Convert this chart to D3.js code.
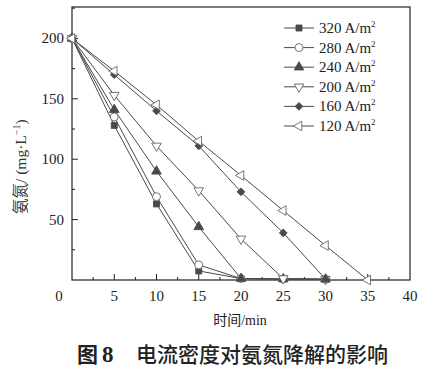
<!DOCTYPE html>
<html><head><meta charset="utf-8">
<script src="https://cdn.jsdelivr.net/npm/d3@7"></script>
<style>body{margin:0;background:#fff}svg{display:block}</style>
</head><body>
<svg id="c" width="448" height="371"></svg>
<script>
const times = [0, 5, 10, 15, 20, 25, 30, 35];
const seriesNames = ["320 A/m", "280 A/m", "240 A/m", "200 A/m", "160 A/m", "120 A/m"];
const s320 = [200, 128, 63, 7.5, 1.2, 0.8, 0.6];
const s280 = [200, 135, 69, 12.5, 1.2, 0.8, 0.6];
const s240 = [200, 141, 90, 44, 1.2, 0.8, 0.6];
const s200 = [200, 153, 111, 74, 34, 1.2, 0.6];
const s160 = [200, 170, 140, 111, 73, 39, 0.8];
const s120 = [200, 173, 145, 115, 86.5, 57.5, 28.5, 0];
const xTicks = [5, 10, 15, 20, 25, 30, 35, 40];
const yTicks = [50, 100, 150, 200];
const caption = "电流密度对氨氮降解的影响";

const allSeries = [s320, s280, s240, s200, s160, s120];
const shapes = [
  {t: d3.symbolSquare, s: 36, fill: true},
  {t: d3.symbolCircle, s: 50, fill: false},
  {t: d3.symbolTriangle, s: 40, fill: true},
  {t: d3.symbolTriangle, s: 40, fill: false, rot: 180},
  {t: d3.symbolSquare, s: 30, fill: true, rot: 45},
  {t: d3.symbolTriangle, s: 40, fill: false, rot: -90}
];
const col = "#4a4a4a";

const svg = d3.select("#c");
const L = 72, R = 410, T = 7, B = 280;
const x = d3.scaleLinear().domain([0, 40]).range([L, R]);
const y = d3.scaleLinear().domain([0, 226]).range([B, T]);
const serif = "'Liberation Serif','Times New Roman','Noto Sans CJK SC',serif";

// frame
svg.append("rect").attr("x", L).attr("y", T).attr("width", R - L).attr("height", B - T)
  .attr("fill", "none").attr("stroke", "#222").attr("stroke-width", 1.2);

// ticks (inward)
const gx = svg.append("g");
d3.range(2.5, 40, 2.5).forEach(v => {
  const major = v % 5 === 0;
  gx.append("line").attr("x1", x(v)).attr("x2", x(v)).attr("y1", B).attr("y2", B - (major ? 6 : 3))
    .attr("stroke", "#222").attr("stroke-width", 1);
});
const gy = svg.append("g");
d3.range(25, 226, 25).forEach(v => {
  const major = v % 50 === 0;
  gy.append("line").attr("y1", y(v)).attr("y2", y(v)).attr("x1", L).attr("x2", L + (major ? 6 : 3))
    .attr("stroke", "#222").attr("stroke-width", 1);
});

// tick labels
svg.append("g").selectAll("text").data(xTicks).join("text")
  .attr("x", d => x(d)).attr("y", 301).attr("text-anchor", "middle")
  .attr("font-family", serif).attr("font-size", 15).attr("fill", "#222").text(d => d);
svg.append("g").selectAll("text").data(yTicks).join("text")
  .attr("x", 64).attr("y", d => y(d) + 5).attr("text-anchor", "end")
  .attr("font-family", serif).attr("font-size", 15).attr("fill", "#222").text(d => d);
svg.append("text").attr("x", 59).attr("y", 301).attr("text-anchor", "middle")
  .attr("font-family", serif).attr("font-size", 15).attr("fill", "#222").text("0");

// axis titles
svg.append("text").attr("x", 240).attr("y", 325).attr("text-anchor", "middle")
  .attr("font-family", serif).attr("font-size", 14).attr("fill", "#222").text("时间/min");
const yt = svg.append("text").attr("transform", "translate(26,214) rotate(-90)")
  .attr("text-anchor", "start").attr("font-family", serif).attr("font-size", 15.5).attr("fill", "#333");
yt.append("tspan").text("氨氮/ (mg·L");
yt.append("tspan").attr("dy", -6).attr("font-size", 10).text("−1");
yt.append("tspan").attr("dy", 6).text(")");

// lines
const line = d3.line().x((d, i) => x(times[i])).y(d => y(d));
allSeries.forEach((s) => {
  svg.append("path").attr("d", line(s)).attr("fill", "none").attr("stroke", col).attr("stroke-width", 1);
});
// markers
function sym(g, k, cx, cy) {
  const sh = shapes[k];
  g.append("path").attr("d", d3.symbol().type(sh.t).size(sh.s)())
    .attr("transform", `translate(${cx},${cy}) rotate(${sh.rot || 0})`)
    .attr("fill", sh.fill ? col : "#fff").attr("stroke", sh.fill ? col : "#666").attr("stroke-width", 0.9);
}
allSeries.forEach((s, k) => {
  const g = svg.append("g");
  s.forEach((v, i) => sym(g, k, x(times[i]), y(v)));
});

// legend
seriesNames.forEach((n, k) => {
  const ly = 28 + k * 19.6;
  const g = svg.append("g");
  g.append("line").attr("x1", 284).attr("x2", 314).attr("y1", ly).attr("y2", ly).attr("stroke", col).attr("stroke-width", 1);
  sym(g, k, 299, ly);
  const t = g.append("text").attr("x", 319).attr("y", ly + 5).attr("font-family", serif)
    .attr("font-size", 15).attr("fill", "#222");
  t.append("tspan").text(n);
  t.append("tspan").attr("dy", -6).attr("font-size", 9).text("2");
});

// caption
const cap = svg.append("text").attr("x", 77).attr("y", 362).attr("fill", "#222");
cap.append("tspan").attr("font-family", "'Noto Sans CJK SC',sans-serif").attr("font-size", 21).attr("font-weight", 700).text("图");
cap.append("tspan").attr("dx", 4).attr("font-family", serif).attr("font-size", 23).attr("font-weight", 700).text("8");
cap.append("tspan").attr("x", 136).attr("font-family", "'Noto Sans CJK SC',sans-serif").attr("font-size", 21).attr("font-weight", 500).text(caption);
</script>
</body></html>
